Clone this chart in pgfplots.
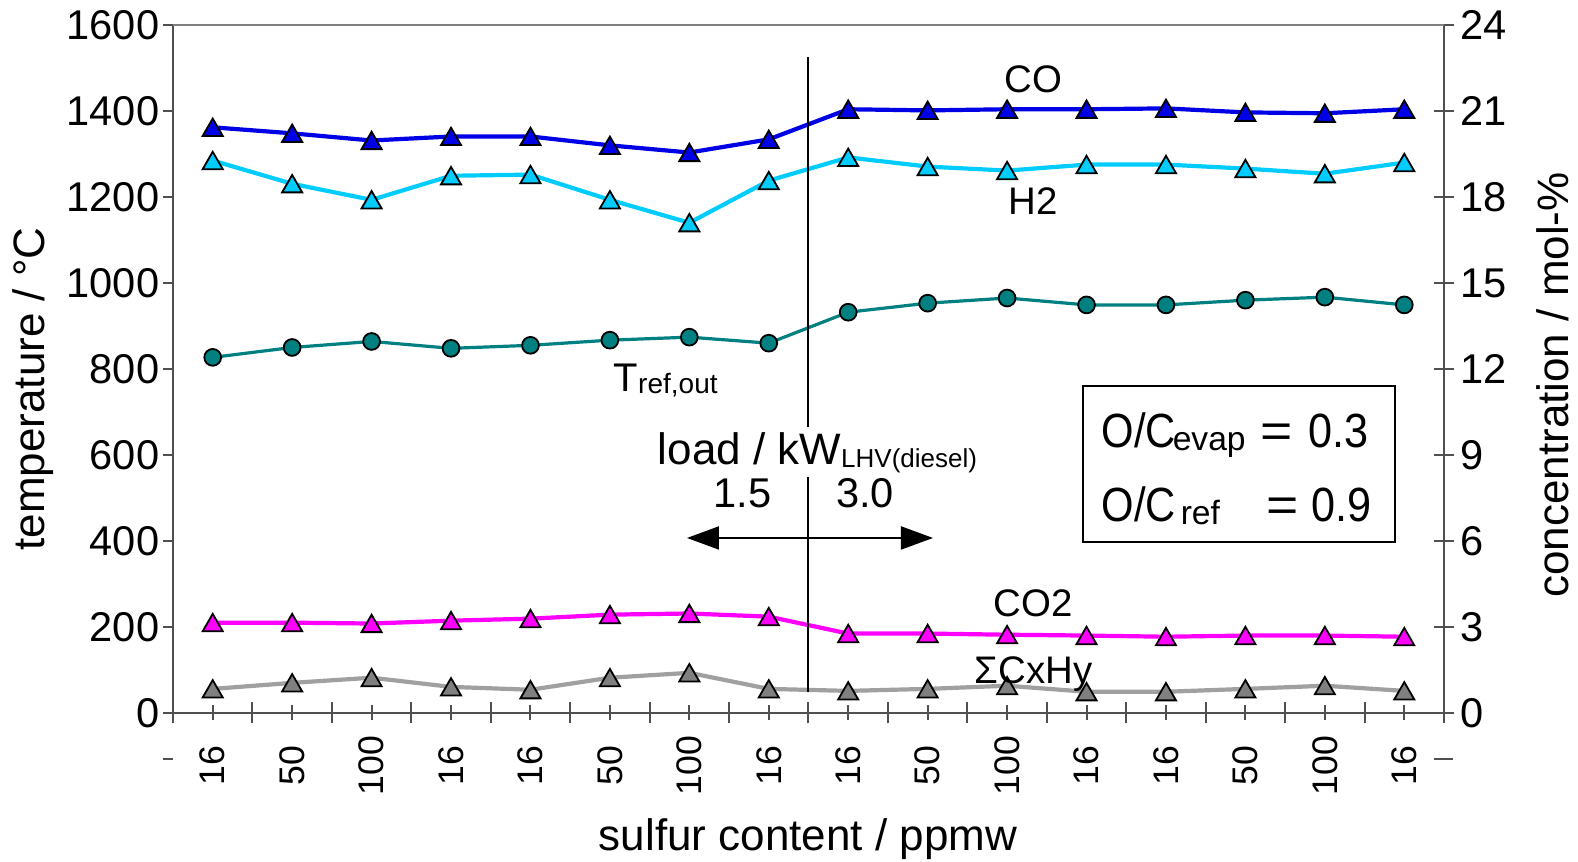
\documentclass[border=0pt]{standalone}
\usepackage{fontspec}
\setmainfont{Liberation Sans}
\usepackage{pgfplots}
\pgfplotsset{compat=1.18}
\usepackage{pgfplotstable}
\usetikzlibrary{arrows.meta}

\definecolor{coblue}{RGB}{0,0,230}
\definecolor{htwo}{RGB}{0,204,255}
\definecolor{tealc}{RGB}{0,128,128}
\definecolor{mag}{RGB}{255,0,255}
\definecolor{gline}{RGB}{160,160,160}
\definecolor{gfill}{RGB}{128,128,128}
\definecolor{spine}{RGB}{80,80,80}

\pgfplotstableread{
x CO H2 T CO2 CH
1 20.43 19.27 827 3.15 0.84
2 20.22 18.46 850 3.15 1.05
3 19.97 17.90 864 3.12 1.23
4 20.11 18.74 848 3.22 0.91
5 20.11 18.78 855 3.29 0.81
6 19.80 17.90 867 3.43 1.23
7 19.55 17.10 874 3.47 1.40
8 20.01 18.57 860 3.36 0.84
9 21.06 19.38 932 2.77 0.77
10 21.02 19.06 953 2.77 0.84
11 21.06 18.92 965 2.73 0.95
12 21.06 19.13 949 2.70 0.74
13 21.09 19.13 949 2.66 0.74
14 20.95 18.99 960 2.70 0.84
15 20.92 18.81 967 2.70 0.95
16 21.06 19.20 949 2.66 0.77
}\data

\newcommand{\fs}[1]{\fontsize{#1}{#1}\selectfont}

\pgfplotsset{base/.style={scale only axis, width=317.75pt, height=172pt,
  xmin=0.5, xmax=16.5, at={(0pt,0pt)}, anchor=south west, clip=false,
  axis line style={spine, line width=0.5pt}, tick style={spine, line width=0.5pt},
  /pgf/number format/assume math mode=true, /pgf/number format/1000 sep={},
  tick label style={font=\fs{10.4}}},
  tri/.style={line width=1.05pt, mark=triangle*, mark size=2.9pt,
  mark options={fill=#1, draw=black, line width=0.45pt, yshift=-0.7pt}}}

\begin{document}
\begin{tikzpicture}
% left axis: temperature
\begin{axis}[base, ymin=0, ymax=1600, ytick={0,200,...,1600}, xtick=\empty,
  axis y line*=left, axis x line=none, tick align=outside, major tick length=2.5pt,
  yticklabel style={anchor=east, inner sep=0pt, xshift=-0.75pt}]
\addplot[tealc, line width=0.8pt, mark=*, mark size=2.1pt,
  mark options={fill=tealc, draw=black, line width=0.45pt}] table[x=x,y=T]{\data};
\end{axis}
% right axis: concentration
\begin{axis}[base, ymin=0, ymax=24, ytick={0,3,...,24}, xtick=\empty,
  axis y line*=right, axis x line=none, tick align=center, major tick length=5pt,
  yticklabel style={anchor=west, inner sep=0pt, xshift=1.5pt}]
\addplot[gline, tri=gfill] table[x=x,y=CH]{\data};
\addplot[mag, tri=mag] table[x=x,y=CO2]{\data};
\addplot[htwo, tri=htwo] table[x=x,y=H2]{\data};
\addplot[coblue, tri=coblue] table[x=x,y=CO]{\data};
\end{axis}
% category axis
\begin{axis}[base, ymin=0, ymax=1600, ytick=\empty,
  axis x line*=bottom, axis y line=none,
  xtick={1,...,16},
  xticklabels={16,50,100,16,16,50,100,16,16,50,100,16,16,50,100,16},
  minor xtick={0.5,1.5,...,16.5},
  tick align=center, major tick length=3.75pt, minor tick length=5.25pt,
  xticklabel style={font=\fs{8.9}, yshift=-11.25pt, rotate=90, anchor=center, inner sep=0pt}]
\draw[black, line width=0.5pt] (axis cs:8.5,49) -- (axis cs:8.5,1526);
\end{axis}
% annotations in pixel coordinates of the reference
\begin{scope}[x=0.25pt,y=-0.25pt,shift={(-43.25pt,178.25pt)}]
\draw[black!50, line width=0.4pt] (173,25) -- (1444,25);
\draw[spine, line width=0.4pt] (163,759) -- (173,759);
\draw[spine, line width=0.4pt] (1434,759) -- (1453,759);
\node[anchor=base, inner sep=0pt, font=\fs{9.6}] at (1033.5,93) {CO};
\node[anchor=base, inner sep=0pt, font=\fs{9.6}] at (1033.5,215) {H2};
\node[anchor=base, inner sep=0pt, font=\fs{9.6}] at (1033,617) {CO2};
\node[anchor=base, inner sep=0pt, font=\fs{9.6}] at (1033.5,684) {ΣCxHy};
\node[anchor=base west, inner sep=0pt, font=\fs{10}] at (613,392) {T\raisebox{-0.3pt}{\fs{7}ref,out}};
\node[anchor=base west, fill=white, inner xsep=0pt, inner ysep=1.5pt, text height=8pt, text depth=1.5pt, font=\fs{11}] at (657,465) {load / kW\raisebox{-0.75pt}{\fs{6.5}LHV(diesel)}};
\node[anchor=base, inner sep=0pt, font=\fs{10.4}] at (742.5,508) {1.5};
\node[anchor=base, inner sep=0pt, font=\fs{10.4}] at (865,508) {3.0};
\draw[black, line width=0.5pt, {Triangle[length=8pt,width=5.75pt]}-{Triangle[length=8pt,width=5.75pt]}] (687,538) -- (933,538);
\draw[black, line width=0.45pt] (1083,386) rectangle (1395,542);
\node[anchor=base west, inner sep=0pt, font=\fs{12}] at (1101,448) {\scalebox{0.87}[1]{O/C}};
\node[anchor=base west, inner sep=0pt, font=\fs{8.4}] at (1172,451) {evap};
\node[anchor=base west, inner sep=0pt, font=\fs{12}] at (1260,448) {\scalebox{1.15}[1]{=}};
\node[anchor=base west, inner sep=0pt, font=\fs{12}] at (1308,448) {\scalebox{0.9}[1]{0.3}};
\node[anchor=base west, inner sep=0pt, font=\fs{12}] at (1101,522) {\scalebox{0.87}[1]{O/C}};
\node[anchor=base west, inner sep=0pt, font=\fs{8.4}] at (1180,525) {ref};
\node[anchor=base west, inner sep=0pt, font=\fs{12}] at (1266,522) {\scalebox{1.15}[1]{=}};
\node[anchor=base west, inner sep=0pt, font=\fs{12}] at (1311,522) {\scalebox{0.9}[1]{0.9}};
\node[rotate=90, anchor=base, inner sep=0pt, font=\fs{11}] at (45,389) {temperature / °C};
\node[rotate=90, anchor=base, inner sep=0pt, font=\fs{11}] at (1568,385) {concentration / mol-\%};
\node[anchor=base, inner sep=0pt, font=\fs{11}] at (808,851) {sulfur content / ppmw};
\end{scope}
\pgfresetboundingbox
\path[use as bounding box] (-43.25pt,-37.25pt) rectangle (351.25pt,178.25pt);
\end{tikzpicture}
\end{document}
